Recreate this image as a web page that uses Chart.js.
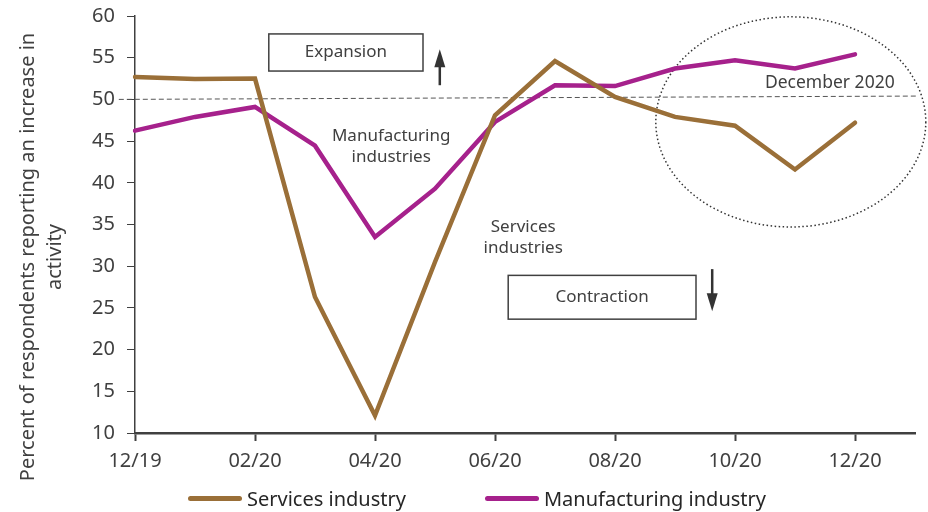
<!DOCTYPE html>
<html>
<head>
<meta charset="utf-8">
<script src="https://cdn.jsdelivr.net/npm/chart.js@4"></script>
<style>
  html, body { margin: 0; padding: 0; background: #fff; }
  #wrap { position: relative; width: 928px; height: 512px; }
  #legend { position: absolute; left: 188px; top: 485px; display: flex; gap: 79px;
            font-family: "Noto Sans", sans-serif; font-size: 20px; color: #262626; }
  #legend .item { display: flex; align-items: center; gap: 5px; white-space: nowrap; }
  #legend .swatch { width: 54px; height: 5px; border-radius: 3px; }
</style>
</head>
<body>
<div id="wrap">
  <canvas id="myChart" width="928" height="512"></canvas>
  <div id="legend"></div>
</div>
<script>
const months = ['12/19', '01/20', '02/20', '03/20', '04/20', '05/20', '06/20',
                '07/20', '08/20', '09/20', '10/20', '11/20', '12/20', '01/21'];
const services = [52.7, 52.45, 52.5, 26.3, 12.1, 30.5, 48.1, 54.6, 50.3, 47.9, 46.85, 41.6, 47.2, null];
const manufacturing = [46.25, 47.9, 49.1, 44.45, 33.5, 39.3, 47.3, 51.7, 51.6, 53.7, 54.7, 53.7, 55.4, null];
const yTitle = ['Percent of respondents reporting an increase in', 'activity'];

const textColor = '#404040';
const font = '"Noto Sans", sans-serif';

// boxes, arrows and notes drawn on top of the axes (x in month index, y in percent)
const notesPlugin = {
  id: 'notes',
  beforeDatasetsDraw(chart) {
    const ctx = chart.ctx;
    const xs = chart.scales.x, ys = chart.scales.y;
    const px = v => xs.getPixelForValue(v);
    const py = v => ys.getPixelForValue(v);
    ctx.save();

    // 50 threshold
    ctx.strokeStyle = '#555';
    ctx.lineWidth = 1;
    ctx.setLineDash([5, 3]);
    ctx.beginPath();
    ctx.moveTo(px(-0.27), py(50));
    ctx.lineTo(px(13.05), py(50.4));
    ctx.stroke();

    // dotted ring round the last months
    ctx.strokeStyle = '#333';
    ctx.lineWidth = 1.5;
    ctx.setLineDash([1.5, 2.5]);
    ctx.beginPath();
    ctx.ellipse(px(10.93), py(47.3), px(2.25) - px(0), py(0) - py(12.6), 0, 0, Math.PI * 2);
    ctx.stroke();
    ctx.setLineDash([]);

    // labelled boxes
    ctx.font = '17px ' + font;
    ctx.fillStyle = textColor;
    ctx.textAlign = 'center';
    ctx.textBaseline = 'middle';
    const box = (x0, x1, y0, y1, text) => {
      ctx.strokeStyle = textColor;
      ctx.lineWidth = 1.5;
      ctx.strokeRect(px(x0), py(y0), px(x1) - px(x0), py(y1) - py(y0));
      ctx.fillText(text, (px(x0) + px(x1)) / 2, (py(y0) + py(y1)) / 2);
    };
    box(2.23, 4.8, 57.85, 53.4, 'Expansion');
    box(6.22, 9.35, 28.9, 23.65, 'Contraction');

    // arrows
    const arrow = (x, from, to) => {
      const X = px(x), y0 = py(from), y1 = py(to);
      const dir = y1 < y0 ? 1 : -1;
      ctx.strokeStyle = '#333';
      ctx.fillStyle = '#333';
      ctx.lineWidth = 2.5;
      ctx.beginPath();
      ctx.moveTo(X, y0);
      ctx.lineTo(X, y1 + dir * 12);
      ctx.stroke();
      ctx.beginPath();
      ctx.moveTo(X, y1);
      ctx.lineTo(X - 5.5, y1 + dir * 18);
      ctx.lineTo(X + 5.5, y1 + dir * 18);
      ctx.closePath();
      ctx.fill();
    };
    arrow(5.08, 51.7, 56.0);
    arrow(9.62, 29.65, 24.6);

    // notes
    ctx.fillStyle = textColor;
    ctx.fillText('Manufacturing', px(4.27), py(45.6));
    ctx.fillText('industries', px(4.27), py(43.1));
    ctx.fillText('Services', px(6.47), py(34.7));
    ctx.fillText('industries', px(6.47), py(32.2));
    ctx.font = '17.5px ' + font;
    ctx.fillText('December 2020', px(11.58), py(52.0));

    // y axis title, two lines
    ctx.font = '20px ' + font;
    ctx.translate(28, 257);
    ctx.rotate(-Math.PI / 2);
    ctx.fillText(yTitle[0], 0, 0);
    ctx.fillText(yTitle[1], 0, 27);
    ctx.restore();
  }
};

const ctx = document.getElementById('myChart').getContext('2d');
const chart = new Chart(ctx, {
  type: 'line',
  data: {
    labels: months,
    datasets: [
      {
        label: 'Services industry',
        data: services,
        borderColor: '#9a6f38',
        backgroundColor: '#9a6f38',
        borderWidth: 4.5,
        borderJoinStyle: 'miter',
        borderCapStyle: 'round',
        pointRadius: 0,
        tension: 0
      },
      {
        label: 'Manufacturing industry',
        data: manufacturing,
        borderColor: '#a6218c',
        backgroundColor: '#a6218c',
        borderWidth: 4.5,
        borderJoinStyle: 'miter',
        borderCapStyle: 'round',
        pointRadius: 0,
        tension: 0
      }
    ]
  },
  options: {
    responsive: false,
    animation: false,
    layout: { padding: { top: 16, right: 13, bottom: 0, left: 0 } },
    plugins: {
      legend: { display: false },
      tooltip: { enabled: false }
    },
    scales: {
      x: {
        offset: false,
        afterFit: s => { s.height = 79; },
        border: { color: textColor, width: 2.5 },
        grid: {
          drawOnChartArea: false,
          tickLength: 8,
          tickWidth: 2,
          tickColor: c => (c.index % 2 === 0 && c.index < 13) ? textColor : 'rgba(0,0,0,0)'
        },
        ticks: {
          autoSkip: false,
          maxRotation: 0,
          padding: 8,
          color: textColor,
          font: { family: font, size: 20 },
          callback: (v, i) => (i % 2 === 0 && i < 13) ? months[i] : ''
        }
      },
      y: {
        min: 10,
        max: 60,
        afterFit: s => { s.width = 135; s.paddingTop = 0; s.paddingBottom = 0; },
        border: { color: textColor, width: 1.5 },
        grid: { drawOnChartArea: false, tickLength: 8, color: textColor },
        ticks: {
          stepSize: 5,
          padding: 12,
          color: textColor,
          font: { family: font, size: 20 }
        }
      }
    }
  },
  plugins: [notesPlugin]
});

// legend under the plot
const legendEl = document.getElementById('legend');
chart.data.datasets.forEach(ds => {
  const item = document.createElement('div');
  item.className = 'item';
  const sw = document.createElement('span');
  sw.className = 'swatch';
  sw.style.background = ds.borderColor;
  const label = document.createElement('span');
  label.textContent = ds.label;
  item.appendChild(sw);
  item.appendChild(label);
  legendEl.appendChild(item);
});
</script>
</body>
</html>
